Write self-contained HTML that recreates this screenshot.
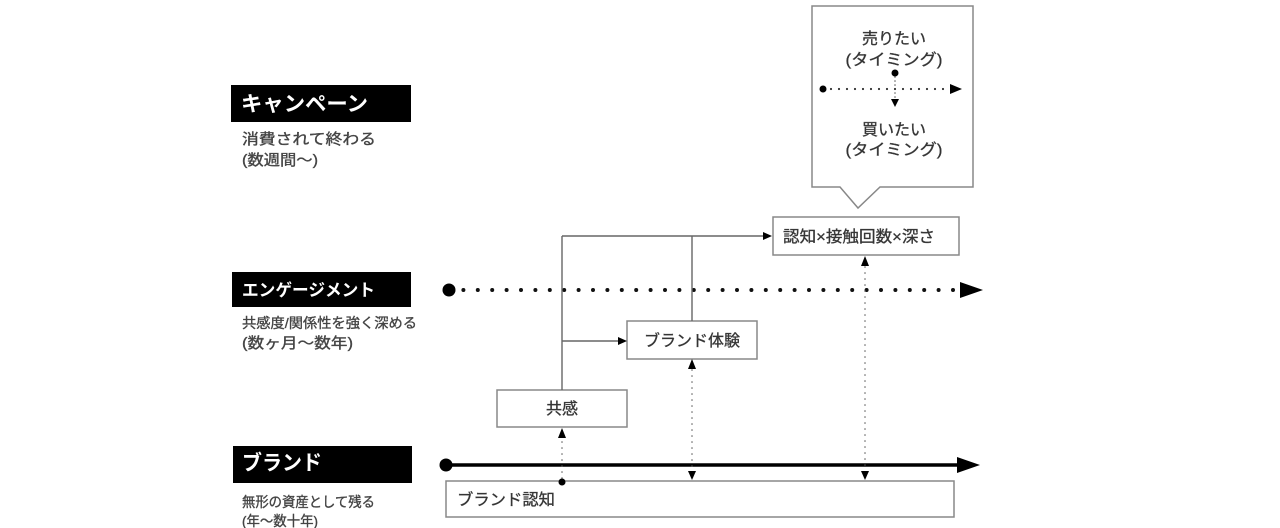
<!DOCTYPE html>
<html><head><meta charset="utf-8"><style>
html,body{margin:0;padding:0;background:#fff;}
svg{display:block;}
text{font-family:"Liberation Sans","Noto Sans CJK JP",sans-serif;}
.g{stroke:#444;stroke-width:0.35;}
</style></head><body>
<svg width="1280" height="528" viewBox="0 0 1280 528" xmlns="http://www.w3.org/2000/svg">
<rect width="1280" height="528" fill="#fff"/>

<!-- Left labels -->
<rect x="231" y="85" width="180" height="37" fill="#000"/>
<text x="241" y="111" font-size="21" font-weight="bold" fill="#fff" textLength="127" lengthAdjust="spacingAndGlyphs">キャンペーン</text>
<text class="g" x="242" y="144" font-size="15" fill="#444" textLength="134" lengthAdjust="spacingAndGlyphs">消費されて終わる</text>
<text class="g" x="242" y="165" font-size="15" fill="#444" textLength="76" lengthAdjust="spacingAndGlyphs">(数週間〜)</text>

<rect x="232" y="272" width="179" height="35" fill="#000"/>
<text x="242" y="296" font-size="17" font-weight="bold" fill="#fff" textLength="133" lengthAdjust="spacingAndGlyphs">エンゲージメント</text>
<text class="g" x="242" y="328" font-size="14" fill="#444" textLength="175" lengthAdjust="spacingAndGlyphs">共感度/関係性を強く深める</text>
<text class="g" x="242" y="348" font-size="15" fill="#444" textLength="111" lengthAdjust="spacingAndGlyphs">(数ヶ月〜数年)</text>

<rect x="233" y="446" width="179" height="37" fill="#000"/>
<text x="242" y="470" font-size="21" font-weight="bold" fill="#fff" textLength="80" lengthAdjust="spacingAndGlyphs">ブランド</text>
<text class="g" x="242" y="507" font-size="14" fill="#444" textLength="133" lengthAdjust="spacingAndGlyphs">無形の資産として残る</text>
<text class="g" x="242" y="526" font-size="14" fill="#444" textLength="76" lengthAdjust="spacingAndGlyphs">(年〜数十年)</text>

<!-- Callout -->
<path d="M812,6 H973 V187 H880 L858,208 L840,187 H812 Z" fill="#fff" stroke="#888" stroke-width="1.5"/>
<text class="g" x="894" y="44" font-size="16" fill="#333" text-anchor="middle">売りたい</text>
<text class="g" x="894" y="65" font-size="16" fill="#333" text-anchor="middle" textLength="97" lengthAdjust="spacingAndGlyphs">(タイミング)</text>
<circle cx="895" cy="73" r="3.5" fill="#000"/>
<line x1="895" y1="77" x2="895" y2="99" stroke="#555" stroke-width="1.5" stroke-dasharray="0 4" stroke-linecap="round"/>
<polygon points="891,99 899,99 895,107" fill="#000"/>
<circle cx="823" cy="89" r="3.5" fill="#000"/>
<line x1="831" y1="89" x2="950" y2="89" stroke="#333" stroke-width="2.2" stroke-dasharray="0 8" stroke-linecap="round"/>
<polygon points="950,84 962,89 950,94" fill="#000"/>
<text class="g" x="894" y="135" font-size="16" fill="#333" text-anchor="middle">買いたい</text>
<text class="g" x="894" y="155" font-size="16" fill="#333" text-anchor="middle" textLength="97" lengthAdjust="spacingAndGlyphs">(タイミング)</text>

<!-- Boxes -->
<rect x="773" y="217" width="186" height="38" fill="#fff" stroke="#888" stroke-width="1.5"/>
<text class="g" x="783" y="242" font-size="16" fill="#333" textLength="152" lengthAdjust="spacingAndGlyphs">認知×接触回数×深さ</text>

<rect x="627" y="321" width="130" height="38" fill="#fff" stroke="#888" stroke-width="1.5"/>
<text class="g" x="692" y="346" font-size="16" fill="#333" text-anchor="middle">ブランド体験</text>

<rect x="497" y="390" width="130" height="37" fill="#fff" stroke="#888" stroke-width="1.5"/>
<text class="g" x="562" y="414" font-size="16" fill="#333" text-anchor="middle">共感</text>

<rect x="446" y="481" width="508" height="36" fill="#fff" stroke="#888" stroke-width="1.5"/>
<text class="g" x="457" y="505" font-size="16" fill="#333" textLength="98" lengthAdjust="spacingAndGlyphs">ブランド認知</text>

<!-- Engagement dotted timeline -->
<circle cx="449" cy="290" r="6.5" fill="#000"/>
<line x1="463.4" y1="290" x2="955" y2="290" stroke="#111" stroke-width="4" stroke-dasharray="0 14.4" stroke-linecap="round"/>
<polygon points="960,282 983,290 960,298" fill="#000"/>

<!-- Brand timeline -->
<circle cx="446" cy="465" r="6.5" fill="#000"/>
<line x1="446" y1="465" x2="960" y2="465" stroke="#000" stroke-width="3.5"/>
<polygon points="957,457 980,465 957,473" fill="#000"/>

<!-- Solid connectors -->
<line x1="562" y1="390" x2="562" y2="236" stroke="#666" stroke-width="1.4"/>
<line x1="562" y1="236" x2="764" y2="236" stroke="#666" stroke-width="1.4"/>
<polygon points="763,232 772,236 763,240" fill="#000"/>
<line x1="692" y1="236" x2="692" y2="321" stroke="#666" stroke-width="1.4"/>
<line x1="562" y1="341" x2="619" y2="341" stroke="#666" stroke-width="1.4"/>
<polygon points="618,337 627,341 618,345" fill="#000"/>

<!-- Dotted vertical connectors -->
<circle cx="562" cy="482" r="3.5" fill="#000"/>
<line x1="562" y1="478" x2="562" y2="440" stroke="#555" stroke-width="1.5" stroke-dasharray="0 6" stroke-linecap="round"/>
<polygon points="558,438 566,438 562,428" fill="#000"/>

<line x1="692" y1="370" x2="692" y2="470" stroke="#555" stroke-width="1.5" stroke-dasharray="0 6" stroke-linecap="round"/>
<polygon points="688,369 696,369 692,359" fill="#000"/>
<polygon points="688,471 696,471 692,480" fill="#000"/>

<line x1="865" y1="267" x2="865" y2="470" stroke="#555" stroke-width="1.5" stroke-dasharray="0 6" stroke-linecap="round"/>
<polygon points="861,266 869,266 865,256" fill="#000"/>
<polygon points="861,471 869,471 865,480" fill="#000"/>
</svg>
</body></html>
